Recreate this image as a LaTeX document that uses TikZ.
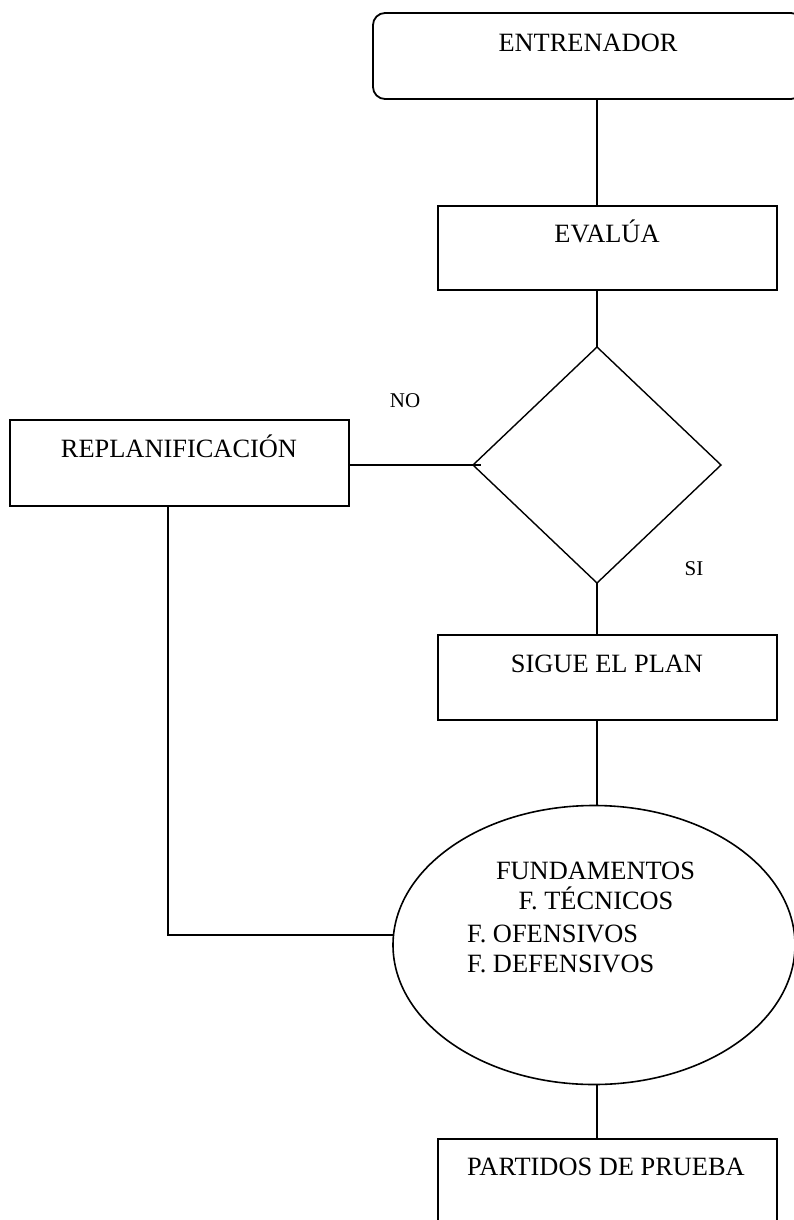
\documentclass[tikz,border=0pt]{standalone}
\usepackage{fontspec}
\setmainfont{Liberation Serif}
\usetikzlibrary{shapes.geometric}

\tikzset{
  shapeline/.style={draw=black, line width=1.8pt, inner sep=0pt, outer sep=0pt},
  procbox/.style={shapeline, rectangle},
  startbox/.style={shapeline, rectangle, rounded corners=12pt},
  decision/.style={draw=black, line width=1.4pt, diamond, inner sep=0pt, outer sep=0pt},
  topicoval/.style={draw=black, line width=1.6pt, ellipse, inner sep=0pt, outer sep=0pt},
  link/.style={draw=black, line width=1.6pt},
  bigtext/.style={font=\fontsize{26.4}{31}\selectfont, inner sep=0pt, anchor=base},
  smalltext/.style={font=\fontsize{21}{25}\selectfont, inner sep=0pt, anchor=base},
}

\begin{document}
\begin{tikzpicture}[x=1pt, y=-1pt]
\clip (0,0) rectangle (794,1220);
\fill[white] (0,0) rectangle (794,1220);

% main vertical axis of the flow
\coordinate (axis) at (597,0);

% boxes
\node[startbox, minimum width=430pt, minimum height=86pt] (entr) at (588,56) {};
\node[bigtext] (entrtxt) at (588,52) {ENTRENADOR};

\node[procbox, minimum width=339pt, minimum height=84pt] (eval) at (607.5,248) {};
\node[bigtext] (evaltxt) at (607,242) {EVALÚA};

\node[decision, minimum width=248pt, minimum height=236pt] (dec) at (597,465) {};
\node[smalltext] (no) at (405,407) {NO};
\node[smalltext] (si) at (694,575) {SI};

\node[procbox, minimum width=339pt, minimum height=86pt] (replan) at (179.5,463) {};
\node[bigtext] (replantxt) at (179,457) {REPLANIFICACIÓN};

\node[procbox, minimum width=339pt, minimum height=85pt] (sigue) at (607.5,677.5) {};
\node[bigtext] (siguetxt) at (607,672) {SIGUE EL PLAN};

\node[topicoval, minimum width=402pt, minimum height=279pt] (fund) at (594,945) {};
\node[bigtext] (f1) at (595.5,879) {FUNDAMENTOS};
\node[bigtext] (f2) at (596,909) {F. TÉCNICOS};
\node[bigtext, anchor=base west] (f3) at (467,942) {F. OFENSIVOS};
\node[bigtext, anchor=base west] (f4) at (467,972) {F. DEFENSIVOS};

\node[procbox, minimum width=339pt, minimum height=85pt] (partidos) at (607.5,1181.5) {};
\node[bigtext] (partidostxt) at (606,1175) {PARTIDOS DE PRUEBA};

% connectors
\draw[link] (entr.south -| axis) -- (eval.north -| axis);
\draw[link] (eval.south -| axis) -- (dec.north);
\draw[link] (dec.south) -- (sigue.north -| axis);
\draw[link] (replan.east |- dec.west) -- ([xshift=8pt]dec.west);
\draw[link] (sigue.south -| axis) -- (fund.north -| axis);
\draw[link] (fund.south -| axis) -- (partidos.north -| axis);
\coordinate (corner) at (168,935);
\draw[link] (replan.south -| corner) -- (corner) -- (fund.west |- corner);
\end{tikzpicture}
\end{document}
